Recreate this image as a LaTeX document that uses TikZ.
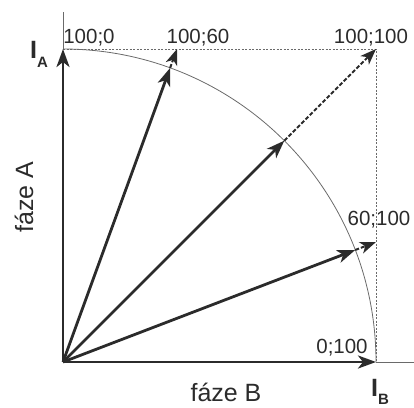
\documentclass[tikz,border=0pt]{standalone}
\usepackage{fontspec}
\setmainfont{Liberation Sans}
\usetikzlibrary{arrows.meta,calc}
\definecolor{ink}{HTML}{2B2B2B}
\definecolor{thin}{HTML}{6A6A6A}
\tikzset{
  vec/.style={draw=ink,line width=2.8pt,-{Stealth[length=18pt,width=13pt,inset=5pt]}},
  dvec/.style={draw=ink,line width=2pt,dash pattern=on 4pt off 2pt,-{Stealth[length=16pt,width=12pt,inset=4.5pt]}},
  guide/.style={draw=thin,line width=0.7pt,dash pattern=on 2pt off 1.5pt},
  axisext/.style={draw=thin,line width=0.8pt},
  arcline/.style={draw=thin,line width=0.8pt},
  num/.style={text=ink,inner sep=0pt,anchor=base,font=\fontsize{20.5}{20.5}\selectfont},
  lab/.style={text=ink,inner sep=0pt,anchor=base,font=\fontsize{25}{25}\selectfont},
}
\begin{document}
\begin{tikzpicture}[x=1pt,y=-1pt]
\useasboundingbox (0,0) rectangle (414,407);
\coordinate (O) at (63,362);
\coordinate (A) at (63,49);
\coordinate (B) at (376,362);
\coordinate (P1) at (177,49);
\coordinate (P2) at (376,49);
\coordinate (P3) at (376,242);
\coordinate (Atop) at (63,12);
\coordinate (Bend) at (414,362);
\coordinate (C1) at ($(O)!313pt!(P1)$);
\coordinate (C2) at ($(O)!313pt!(P2)$);
\coordinate (C3) at ($(O)!313pt!(P3)$);
% guides
\draw[guide] (A) -- (P2) -- (B);
\draw[arcline] (B) arc[start angle=0,end angle=-90,radius=313];
\draw[axisext] (A) -- (Atop);
\draw[axisext] (B) -- (Bend);
% vectors
\draw[vec] (O) -- (A);
\draw[vec] (O) -- (B);
\draw[vec] (O) -- (C1);
\draw[vec] (O) -- (C2);
\draw[vec] (O) -- (C3);
\draw[dvec] (C1) -- (P1);
\draw[dvec] (C2) -- (P2);
\draw[dvec] (C3) -- (P3);
% labels
\node[num] (l1) at (89,43) {100;0};
\node[num] (l2) at (198,43) {100;60};
\node[num] (l3) at (371,43) {100;100};
\node[num] (l4) at (379,225) {60;100};
\node[num] (l5) at (342,353) {0;100};
\node[lab] (fb) at (226,401) {fáze B};
\node[lab,rotate=90] (fa) at (33,197) {fáze A};
\node[text=ink,inner sep=0pt,anchor=base west] (ia) at (30,58) {{\fontsize{25}{25}\selectfont\bfseries I}{\fontsize{15}{15}\selectfont\bfseries\raisebox{-9pt}{A}}};
\node[text=ink,inner sep=0pt,anchor=base west] (ib) at (371,396) {{\fontsize{25}{25}\selectfont\bfseries I}{\fontsize{15}{15}\selectfont\bfseries\raisebox{-8pt}{B}}};
\end{tikzpicture}
\end{document}
